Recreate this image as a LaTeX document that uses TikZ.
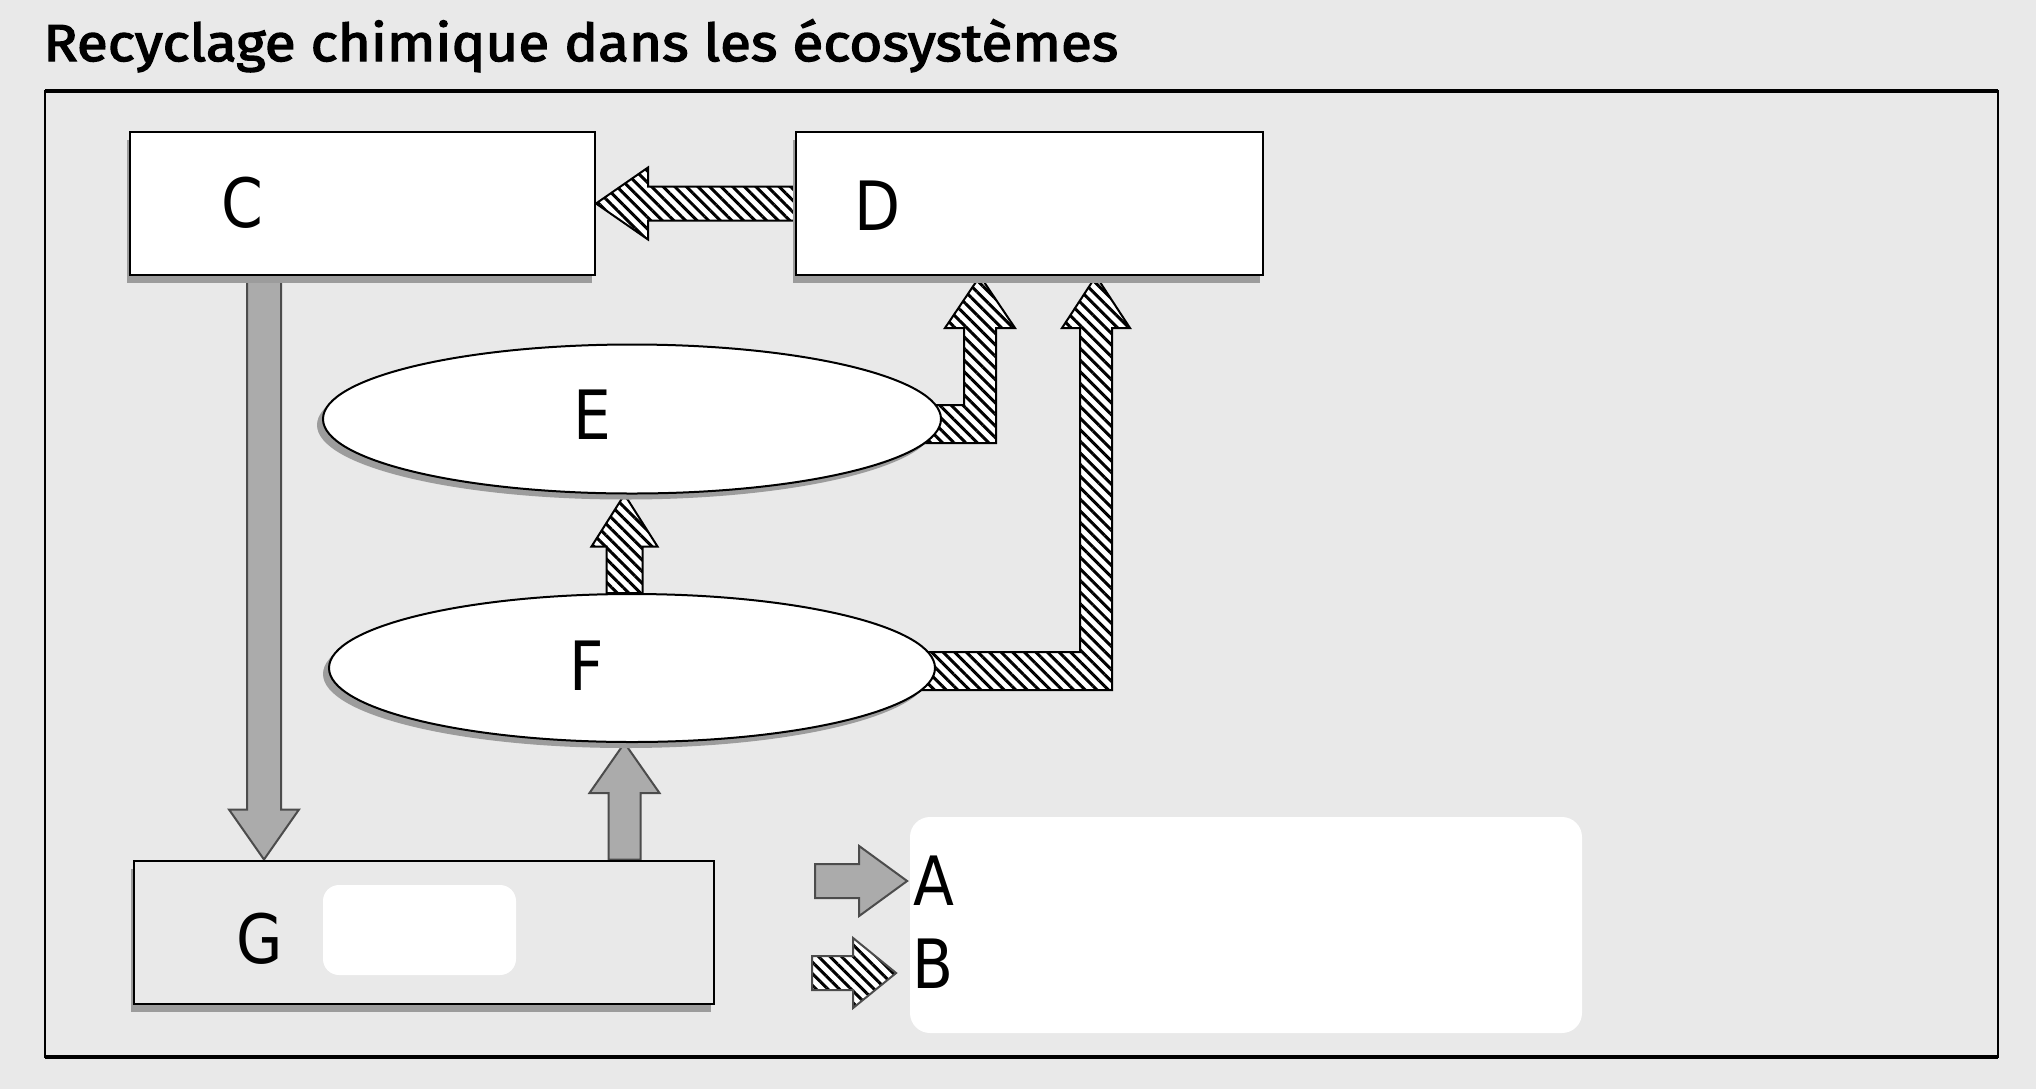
\documentclass[tikz,border=0pt]{standalone}
\usepackage{fontspec}
\setmainfont{DejaVu Sans}
\newfontfamily\letterfont{DejaVu Sans}[FakeStretch=0.88]
\newfontfamily\titlefont{Fira Sans}[FakeBold=2.6,FakeStretch=1.09]
\usetikzlibrary{shapes.geometric,shadows,patterns.meta,calc,backgrounds}
\definecolor{pagegray}{HTML}{E9E9E9}
\definecolor{flowgray}{HTML}{ABABAB}
\definecolor{shadowgray}{HTML}{9C9C9C}
\tikzset{
  box/.style={draw=black, line width=1pt, fill=white, inner sep=0pt, minimum height=71.5pt,
    drop shadow={shadow xshift=-1.5pt, shadow yshift=-4pt, fill=shadowgray, opacity=1}},
  pool/.style={ellipse, draw=black, line width=1pt, fill=white, inner sep=0pt,
    drop shadow={shadow xshift=-3pt, shadow yshift=-3pt, fill=shadowgray, opacity=1}},
  letter/.style={inner sep=0pt, font=\letterfont\fontsize{34}{34}\selectfont},
  grayflow/.style={draw=black!70, line width=1pt, fill=flowgray},
  hatchflow/.style={draw=black, line width=1pt, preaction={fill=white},
    pattern={Lines[angle=-45,distance=4.1pt,line width=1.5pt]}},
}
\begin{document}
\begin{tikzpicture}[x=0.5pt,y=-0.5pt]
\useasboundingbox (0,0) rectangle (2036,1089);
\node[anchor=base west, inner sep=0pt, font=\titlefont\fontsize{26}{26}\selectfont] (title) at (43,61) {Recyclage chimique dans les écosystèmes};
\draw[line width=1pt] (45,91) rectangle (1998,1057);
\draw[line width=2pt] (45,91) -- (1998,91) (45,1057) -- (1998,1057);
% compartments
\node[box, minimum width=232.5pt] (cbox) at (362.5,203.5) {};
\node[box, minimum width=233.5pt] (dbox) at (1029.5,203.5) {};
\node[pool, minimum width=309pt, minimum height=74.5pt] (eell) at (632,419) {};
\node[pool, minimum width=303pt, minimum height=74pt] (fell) at (632,668) {};
\node[box, minimum width=290pt, fill=pagegray] (gbox) at (423.5,932) {};
\fill[white, rounded corners=8pt] (323,885) rectangle (516,975);
\fill[white, rounded corners=10pt] (910,817) rectangle (1582,1033);
\node[letter] (ckey) at (242,203) {C};
\node[letter] (dkey) at (878,206) {D};
\node[letter] (ekey) at (592,415) {E};
\node[letter] (fkey) at (587,666) {F};
\node[letter] (gkey) at (260,939) {G};
\node[letter] (akey) at (934,881) {A};
\node[letter] (bkey) at (933,964) {B};
% flows
\coordinate (cgtop) at ($(cbox.south west)+(135,0)$);
\coordinate (cgtip) at (cgtop |- gbox.north);
\coordinate (gfbase) at ($(gbox.north west)+(492,0)$);
\coordinate (gftip) at (gfbase |- fell.south);
\coordinate (febase) at (gfbase |- fell.north);
\coordinate (fetip) at (gfbase |- eell.south);
\coordinate (edtop) at ($(dbox.south west)+(185,0)$);
\coordinate (edknee) at (edtop |- eell.east);
\coordinate (fdtop) at ($(dbox.south west)+(301,0)$);
\coordinate (fdknee) at (fdtop |- fell.east);
\coordinate (atip) at ($(akey.west)+(-6,0)$);
\coordinate (atail) at ($(atip)+(-92,0)$);
\coordinate (btip) at ($(bkey.west)+(-16,9)$);
\coordinate (btail) at ($(btip)+(-84,0)$);
\begin{scope}[on background layer]
\fill[pagegray] (0,0) rectangle (2036,1089);
\draw[hatchflow] ($(dbox.west)+(0,-17)$) -- ($(cbox.east)+(52,-17)$) -- ($(cbox.east)+(52,-36)$) -- (cbox.east)
  -- ($(cbox.east)+(52,36)$) -- ($(cbox.east)+(52,17)$) -- ($(dbox.west)+(0,17)$) -- cycle;
\draw[grayflow] ($(cgtop)+(-17,0)$) -- ($(cgtip)+(-17,-50)$) -- ($(cgtip)+(-35,-50)$) -- (cgtip)
  -- ($(cgtip)+(35,-50)$) -- ($(cgtip)+(17,-50)$) -- ($(cgtop)+(17,0)$) -- cycle;
\draw[grayflow] ($(gfbase)+(-16,0)$) -- ($(gftip)+(-16,50)$) -- ($(gftip)+(-35,50)$) -- (gftip)
  -- ($(gftip)+(35,50)$) -- ($(gftip)+(16,50)$) -- ($(gfbase)+(16,0)$) -- cycle;
\draw[hatchflow] ($(febase)+(-18,0)$) -- ($(fetip)+(-18,52)$) -- ($(fetip)+(-33,52)$) -- (fetip)
  -- ($(fetip)+(33,52)$) -- ($(fetip)+(18,52)$) -- ($(febase)+(18,0)$) -- cycle;
\draw[hatchflow] ($(eell.east)+(-25,-14)$) -- ($(edknee)+(-16,-14)$) -- ($(edtop)+(-16,52)$) -- ($(edtop)+(-35,52)$) -- (edtop)
  -- ($(edtop)+(35,52)$) -- ($(edtop)+(16,52)$) -- ($(edknee)+(16,24)$) -- ($(eell.east)+(-25,24)$) -- cycle;
\draw[hatchflow] ($(fell.east)+(-25,-16)$) -- ($(fdknee)+(-16,-16)$) -- ($(fdtop)+(-16,52)$) -- ($(fdtop)+(-34,52)$) -- (fdtop)
  -- ($(fdtop)+(34,52)$) -- ($(fdtop)+(16,52)$) -- ($(fdknee)+(16,22)$) -- ($(fell.east)+(-25,22)$) -- cycle;
\end{scope}
% key
\draw[grayflow] ($(atail)+(0,-17)$) -- ($(atip)+(-48,-17)$) -- ($(atip)+(-48,-35)$) -- (atip)
  -- ($(atip)+(-48,35)$) -- ($(atip)+(-48,17)$) -- ($(atail)+(0,17)$) -- cycle;
\draw[hatchflow, draw=black!70] ($(btail)+(0,-17)$) -- ($(btip)+(-43,-17)$) -- ($(btip)+(-43,-35)$) -- (btip)
  -- ($(btip)+(-43,35)$) -- ($(btip)+(-43,17)$) -- ($(btail)+(0,17)$) -- cycle;
\end{tikzpicture}
\end{document}
